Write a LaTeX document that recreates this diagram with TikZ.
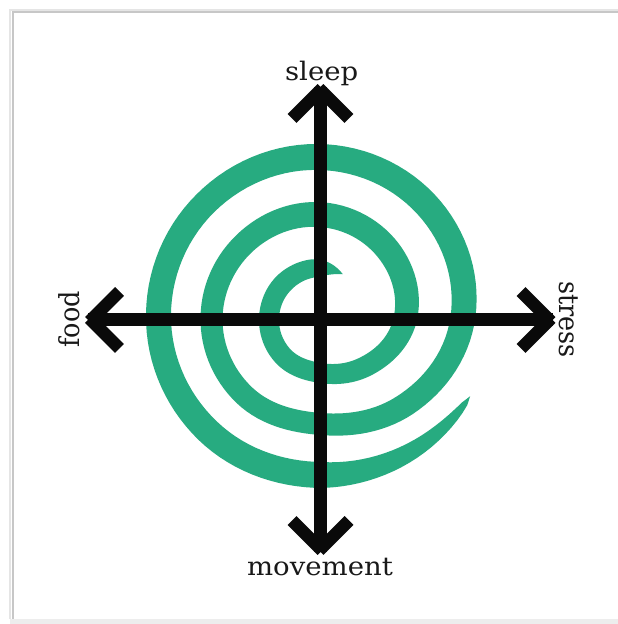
\documentclass[tikz,border=0pt]{standalone}
\usepackage{fontspec}
\setmainfont{DejaVu Serif}
\usetikzlibrary{calc}
\definecolor{spiralgreen}{RGB}{39,171,128}
\definecolor{axisblack}{RGB}{10,10,10}
\tikzset{declare function={
 Rt(\i)={48,50,52,52,51.5,52,53,65,84.5,97,105.4,108,109,107,104,120,142,156,163,164,162,158,155,162,178,190}[int(\i)];
 Wt(\i)={18,18,18,20,20,20,20,22,24,25,25,23,22,22,22,24,25,26,26,25,25,26,26,26,26,26}[int(\i)];
 cr(\a,\b,\c,\d,\f)=0.5*(2*\b+(\c-\a)*\f+(2*\a-5*\b+4*\c-\d)*\f*\f+(-\a+3*\b-3*\c+\d)*\f*\f*\f);
 sidx(\t)=int(floor(\t/45));
 sfr(\t)=\t/45-floor(\t/45);
 sr(\t)=cr(Rt(sidx(\t)-1),Rt(sidx(\t)),Rt(sidx(\t)+1),Rt(sidx(\t)+2),sfr(\t));
 sw(\t)=(Wt(sidx(\t))+(Wt(sidx(\t)+1)-Wt(sidx(\t)))*sfr(\t))*sin(90*min(1,max(0,(\t-64)/36)))*sqrt(min(1,max(0,(1053-\t)/63)));
}}
\begin{document}
\begin{tikzpicture}[x=1pt,y=1pt,
  axisline/.style={draw=axisblack, line width=13pt, line cap=butt},
  armline/.style={draw=axisblack, line width=12.5pt, line cap=butt},
  lbl/.style={font=\fontsize{25.5}{30}\selectfont, text=black!90, inner sep=0pt, anchor=base, xscale=1.08},
  spiralfill/.style={fill=spiralgreen},
  framegray/.style={draw=black!22, line width=2.5pt}]
\useasboundingbox (0,0) rectangle (618,624);
\fill[white] (0,0) rectangle (618,624);
% frame with shadow
\fill[black!7] (10,0) rectangle (618,5);
\draw[black!10, line width=1.5pt] (10,5) -- (10,614) -- (618,614);
\draw[framegray] (13,5) -- (13,612) -- (618,612);
% centre and tips
\coordinate (O) at (320.5,304);
\coordinate (T) at (320.5,537);
\coordinate (B) at (320.5,72);
\coordinate (L) at (88,304);
\coordinate (R) at (552.5,304);
% spiral
\begin{scope}[shift={(O)}]
\fill[spiralfill] plot[domain=64:1053, samples=320, variable=\t] (\t:{sr(\t)+0.5*sw(\t)})
 -- plot[domain=1053:64, samples=320, variable=\t] (\t:{sr(\t)-0.5*sw(\t)}) -- cycle;
\end{scope}
% axes
\draw[axisline] (B) -- (T);
\draw[axisline] (L) -- (R);
% chevron heads
\draw[armline] ($(T)+(1.5,-1.5)$) -- ++(-30,-30) ($(T)+(-1.5,-1.5)$) -- ++(30,-30);
\draw[armline] ($(B)+(-1.5,1.5)$) -- ++(30,30) ($(B)+(1.5,1.5)$) -- ++(-30,30);
\draw[armline] ($(L)+(1.5,1.5)$) -- ++(30,-30) ($(L)+(1.5,-1.5)$) -- ++(30,30);
\draw[armline] ($(R)+(-1.5,-1.5)$) -- ++(-30,30) ($(R)+(-1.5,1.5)$) -- ++(-30,-30);
% labels
\node[lbl] (sleep) at (321.7,543.3) {sleep};
\node[lbl] (movement) at (320,48.6) {movement};
\node[lbl, rotate=90] (food) at (79.3,304.5) {food};
\node[lbl, rotate=-90] (stress) at (559.5,304.5) {stress};
\end{tikzpicture}
\end{document}
